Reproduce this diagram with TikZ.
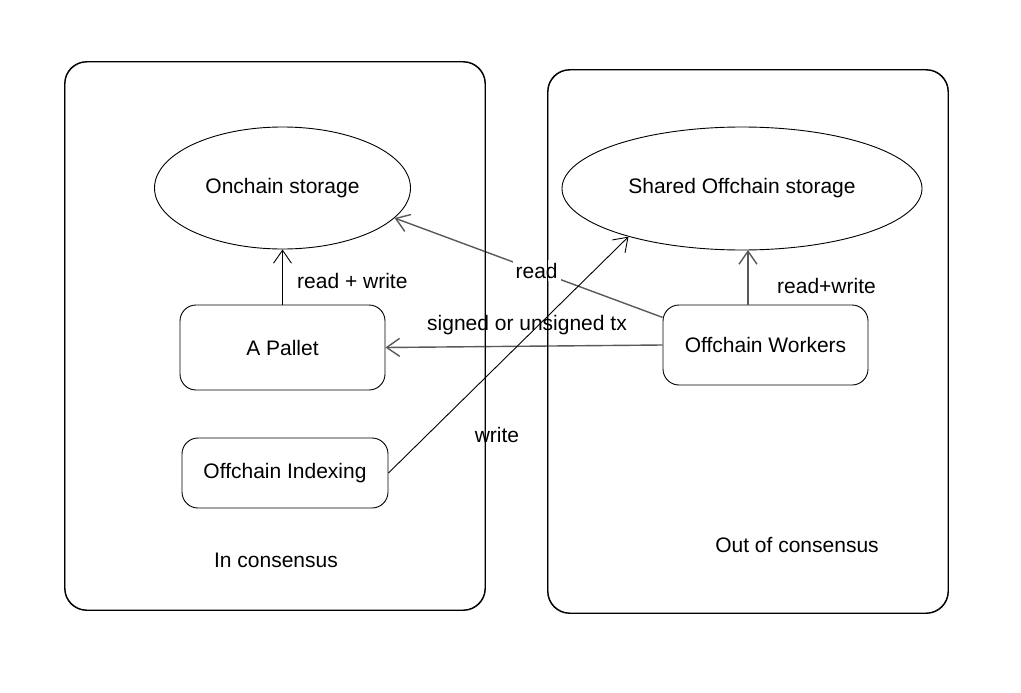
\documentclass[tikz,border=0pt]{standalone}
\usepackage{fontspec}
\setmainfont{Liberation Sans}
\usetikzlibrary{shapes.geometric,arrows.meta,calc}
\begin{document}
\begin{tikzpicture}[x=1pt,y=-1pt,
  every node/.style={font=\fontsize{21}{24}\selectfont},
  region/.style={draw, line width=0.9pt, rounded corners=22pt, inner sep=0pt},
  store/.style={draw, ellipse, line width=0.9pt, inner sep=0pt},
  comp/.style={draw, line width=0.9pt, rounded corners=16pt, inner sep=0pt},
  conn/.style={line width=0.9pt, -{Straight Barb[length=13pt,width=18pt]}},
  gconn/.style={line width=1.4pt, draw=black!65, -{Straight Barb[length=13pt,width=18pt]}},
  lbl/.style={inner sep=1pt}
]
\useasboundingbox (0,0) rectangle (1021,693);
% regions
\node[region, minimum width=420pt, minimum height=548pt] (inreg) at (275,336) {};
\node[region, minimum width=400pt, minimum height=543pt] (outreg) at (748,341.5) {};
% storages
\node[store, minimum width=256pt, minimum height=122pt, label={center:Onchain storage}] (onchain) at (282.5,188) {};
\node[store, minimum width=360pt, minimum height=123pt, label={center:Shared Offchain storage}] (shared) at (742,188.5) {};
% components
\node[comp, minimum width=205pt, minimum height=85pt] (pallet) at (282.5,347.5) {A Pallet};
\node[comp, minimum width=206pt, minimum height=70pt] (indexing) at (285,473) {Offchain Indexing};
\node[comp, minimum width=205pt, minimum height=80pt] (workers) at (765.5,345) {Offchain Workers};
% connectors
\draw[conn] (pallet.north) -- (onchain.south);
\node[lbl, anchor=west] (rw1) at (296,281) {read + write};
\coordinate (wtop) at (748,305);
\coordinate (stop) at (748,250);
\draw[gconn] (wtop) -- (stop);
\node[lbl, anchor=west] (rw2) at (776,286) {read+write};
\draw[gconn] (workers.165) -- node[lbl, pos=0.47, fill=white, inner sep=3pt] (rdl) {read} (onchain.-15);
\draw[gconn] (workers.west) -- (pallet.east);
\node[lbl] (txl) at (527,325) {signed or unsigned tx};
\draw[conn] (indexing.east) -- (shared.-157);
\node[lbl] (wl) at (497,435) {write};
% redraw region edges on top
\draw[line width=0.9pt, rounded corners=22pt] (inreg.south west) rectangle (inreg.north east);
\draw[line width=0.9pt, rounded corners=22pt] (outreg.south west) rectangle (outreg.north east);
\node[lbl] (inc) at (276,560) {In consensus};
\node[lbl] (outc) at (797,545) {Out of consensus};
\end{tikzpicture}
\end{document}
